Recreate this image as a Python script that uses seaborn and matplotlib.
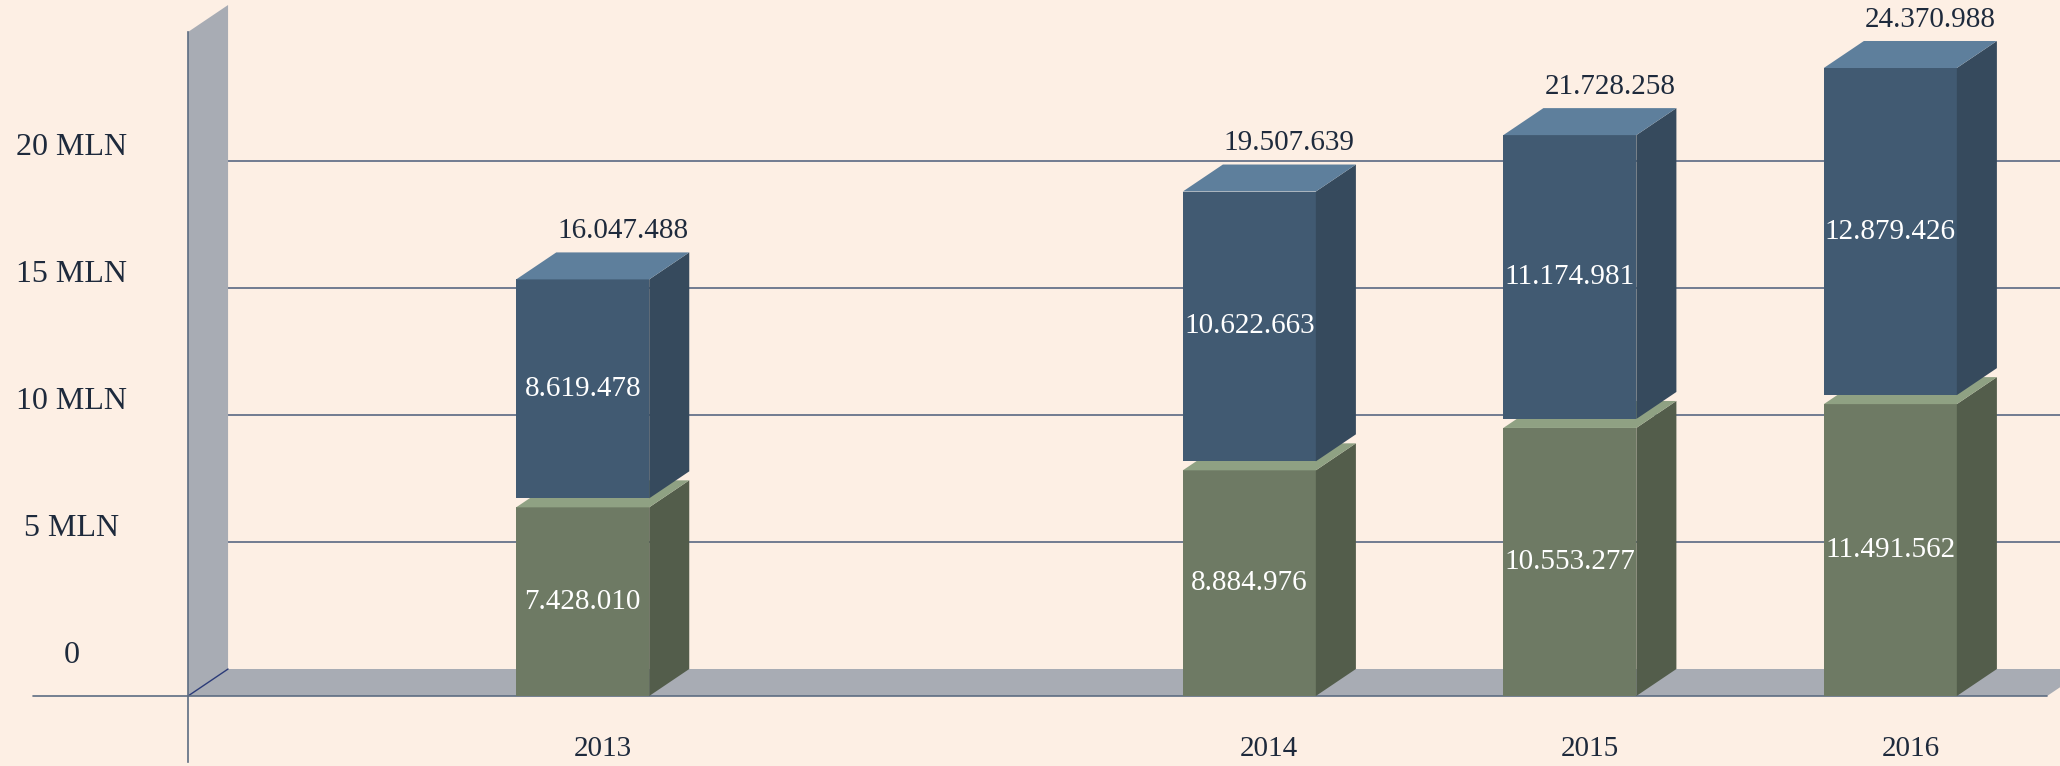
import numpy as np
import matplotlib.pyplot as plt
import seaborn as sns
from matplotlib.patches import Polygon

# dati
anni = ['2013', '2014', '2015', '2016']
parte_verde = [7428010, 8884976, 10553277, 11491562]
parte_blu = [8619478, 10622663, 11174981, 12879426]
totali = [16047488, 19507639, 21728258, 24370988]
tick_mln = [0, 5, 10, 15, 20]
tick_lab = ['0', '5 MLN', '10 MLN', '15 MLN', '20 MLN']

# posizione delle colonne sull'asse (il 2013 e' piu' staccato)
pos_x = [0, 2.08, 3.08, 4.08]

# colori
SFONDO = '#fdefe4'
VERDE = ['#6e7a64', '#535d4b', '#8fa183']   # fronte, lato, sopra
BLU = ['#415a72', '#364a5d', '#5e7f9c']
GRIGIO = '#a8acb4'
LINEA = '#5d6d82'
TESTO = '#1e2a3c'

# profondita' finta 3D (unita' dati) e piccolo stacco fra i due blocchi
DX, DY = 0.125, 1.063
STACCO = 0.354

sns.set_theme(style='white')
plt.rcParams['font.family'] = ['Liberation Serif', 'DejaVu Serif']

fig = plt.figure(figsize=(20.6, 7.66), dpi=100, facecolor=SFONDO)
ax = fig.add_axes([188 / 2060, 4 / 766, 1 - 188 / 2060, 730 / 766])
ax.set_facecolor(SFONDO)

xl, xr = -1.2315, 4.6094
yb, yt = -2.598, 26.142

verde_m = np.array(parte_verde) / 1e6
blu_m = np.array(parte_blu) / 1e6
base_blu = verde_m + STACCO

# colonne (facce frontali) con seaborn
sns.barplot(x=pos_x, y=verde_m, native_scale=True, orient='x', width=0.415,
            color=VERDE[0], saturation=1, errorbar=None, linewidth=0, ax=ax, zorder=3)
rett_verdi = list(ax.patches)
sns.barplot(x=pos_x, y=blu_m, bottom=base_blu, native_scale=True, orient='x', width=0.415,
            color=BLU[0], saturation=1, errorbar=None, linewidth=0, ax=ax, zorder=5)
rett_blu = list(ax.patches)[len(rett_verdi):]

# parete e pavimento
ax.add_patch(Polygon([(xl, 0), (xl + DX, DY), (xl + DX, yt + DY), (xl, yt)],
                     closed=True, fc=GRIGIO, ec='none', zorder=1, clip_on=False))
fine_pav = 4.569
ax.add_patch(Polygon([(xl, 0), (fine_pav, 0), (fine_pav + DX, DY), (xl + DX, DY)],
                     closed=True, fc=GRIGIO, ec='none', zorder=1, clip_on=False))
ax.plot([xl, xl + DX], [0, DY], color='#2b3b78', lw=1, zorder=2)

# griglia sulla parete di fondo
for t in tick_mln[1:]:
    ax.plot([xl + DX, xr + 1], [t + DY, t + DY], color='#66728a', lw=1.3, zorder=0.5)

# etichette asse y
for t, lab in zip(tick_mln, tick_lab):
    ax.annotate(lab, xy=(72 / 2060, t + DY), xycoords=('figure fraction', 'data'),
                xytext=(0, 10), textcoords='offset points', ha='center', va='center',
                fontsize=23, color=TESTO)


def facce(r, col, z):
    x0, w, y0, h = r.get_x(), r.get_width(), r.get_y(), r.get_height()
    lato = [(x0 + w, y0), (x0 + w + DX, y0 + DY), (x0 + w + DX, y0 + h + DY), (x0 + w, y0 + h)]
    sopra = [(x0, y0 + h), (x0 + w, y0 + h), (x0 + w + DX, y0 + h + DY), (x0 + DX, y0 + h + DY)]
    ax.add_patch(Polygon(lato, closed=True, fc=col[1], ec='none', zorder=z))
    ax.add_patch(Polygon(sopra, closed=True, fc=col[2], ec='none', zorder=z))


for r in rett_verdi:
    facce(r, VERDE, 3)
for r in rett_blu:
    facce(r, BLU, 5)

fmt = lambda v: f'{v:,}'.replace(',', '.')

# valori dentro le colonne
for r, v in zip(rett_verdi, parte_verde):
    ax.text(r.get_x() + r.get_width() / 2, r.get_y() + r.get_height() / 2, fmt(v),
            ha='center', va='center', color='white', fontsize=21, zorder=6)
for r, v in zip(rett_blu, parte_blu):
    ax.text(r.get_x() + r.get_width() / 2, r.get_y() + r.get_height() / 2, fmt(v),
            ha='center', va='center', color='white', fontsize=21, zorder=6)

# totali sopra le colonne
for r, v in zip(rett_blu, totali):
    ax.annotate(fmt(v), xy=(r.get_x() + r.get_width() / 2 + DX, r.get_y() + r.get_height() + DY),
                xytext=(0, 6), textcoords='offset points', ha='center', va='bottom',
                fontsize=21, color=TESTO, annotation_clip=False)

# anni sotto
for r, a in zip(rett_verdi, anni):
    ax.annotate(a, xy=(r.get_x() + r.get_width() / 2 + DX / 2, 0),
                xytext=(0, -38), textcoords='offset points', ha='center', va='center',
                fontsize=21, color=TESTO, annotation_clip=False)

# assi
ax.axhline(0, xmin=-0.0828, xmax=0.993, color=LINEA, lw=1.2, zorder=2, clip_on=False)
ax.set_xlim(xl, xr)
ax.set_ylim(yb, yt)
ax.set_xticks([])
ax.set_yticks([])
for s in ['top', 'right', 'bottom']:
    ax.spines[s].set_visible(False)
ax.spines['left'].set_color(LINEA)
ax.spines['left'].set_linewidth(1.2)
ax.set_xlabel('')
ax.set_ylabel('')

fig.savefig('out.png', dpi=100, facecolor=SFONDO)
